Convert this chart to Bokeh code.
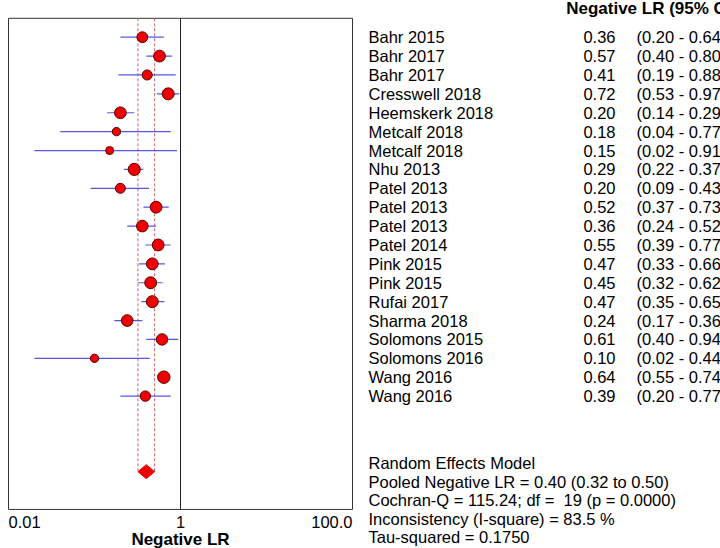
import math
from bokeh.plotting import figure
from bokeh.models import ColumnDataSource, Range1d, LogScale
from bokeh.core.properties import value
from bokeh.embed import file_html
from bokeh.resources import INLINE

# ---------------- data ----------------
studies = ["Bahr 2015", "Bahr 2017", "Bahr 2017", "Cresswell 2018", "Heemskerk 2018",
           "Metcalf 2018", "Metcalf 2018", "Nhu 2013", "Patel 2013", "Patel 2013",
           "Patel 2013", "Patel 2014", "Pink 2015", "Pink 2015", "Rufai 2017",
           "Sharma 2018", "Solomons 2015", "Solomons 2016", "Wang 2016", "Wang 2016"]
neg_lr = [0.36, 0.57, 0.41, 0.72, 0.20, 0.18, 0.15, 0.29, 0.20, 0.52,
          0.36, 0.55, 0.47, 0.45, 0.47, 0.24, 0.61, 0.10, 0.64, 0.39]
ci_low = [0.20, 0.40, 0.19, 0.53, 0.14, 0.04, 0.02, 0.22, 0.09, 0.37,
          0.24, 0.39, 0.33, 0.32, 0.35, 0.17, 0.40, 0.02, 0.55, 0.20]
ci_high = [0.64, 0.80, 0.88, 0.97, 0.29, 0.77, 0.91, 0.37, 0.43, 0.73,
           0.52, 0.77, 0.66, 0.62, 0.65, 0.36, 0.94, 0.44, 0.74, 0.77]

pooled = 0.40
pooled_low = 0.32
pooled_high = 0.50
cochran_q = 115.24
df_q = 19
p_value = 0.0000
i_square = 83.5
tau_squared = 0.1750

tick_values = [0.01, 1, 100]
tick_labels = ["0.01", "1", "100.0"]
axis_title = "Negative LR"
header = "Negative LR (95% CI)"
summary_lines = [
    "Random Effects Model",
    f"Pooled Negative LR = {pooled:.2f} ({pooled_low:.2f} to {pooled_high:.2f})",
    f"Cochran-Q = {cochran_q:.2f}; df = \u00a0{df_q} (p = {p_value:.4f})",
    f"Inconsistency (I-square) = {i_square:.1f} %",
    f"Tau-squared = {tau_squared:.4f}",
]

# ---------------- derived ----------------
rows = list(range(1, len(studies) + 1))
sizes = []
for lo, hi in zip(ci_low, ci_high):
    se = (math.log(hi) - math.log(lo)) / (2 * 1.96)
    w = 1.0 / (se * se + tau_squared)
    sizes.append(7.1 + 0.97 * w)

src = ColumnDataSource(dict(
    study=studies, lr=neg_lr, lo=ci_low, hi=ci_high, row=rows, size=sizes,
    val=[f"{v:.2f}" for v in neg_lr],
    ci=[f"({a:.2f} - {b:.2f})" for a, b in zip(ci_low, ci_high)],
))

# ---------------- layout constants ----------------
W, H = 720, 548
FONT = "Liberation Sans"
N_ROWS = 26             # box spans rows 0..26
ROW_PX = 18.89
TOP_PX = 17.8           # pixel position of row 0 (top of box)
BOX_L, BOX_R = 8, 352   # pixel x of 0.01 and 100
DEC_PX = (BOX_R - BOX_L) / 4.0

y_top = -TOP_PX / ROW_PX
y_bot = (H - TOP_PX) / ROW_PX
log_lo = 10 ** (-2 - BOX_L / DEC_PX)
log_hi = 10 ** (2 + (W - BOX_R) / DEC_PX)

p = figure(width=W, height=H, output_backend="svg", toolbar_location=None,
           x_range=Range1d(0, W), y_range=Range1d(y_bot, y_top),
           x_axis_location=None, y_axis_location=None,
           min_border=0, min_border_left=0, min_border_right=0,
           min_border_top=0, min_border_bottom=0)
p.extra_x_ranges = {"log": Range1d(log_lo, log_hi)}
p.extra_x_scales = {"log": LogScale()}
p.grid.visible = False
p.outline_line_color = None
p.background_fill_color = "white"
p.border_fill_color = "white"

# box of the forest panel (spans the axis range)
p.quad(left=[tick_values[0]], right=[tick_values[-1]], top=[0], bottom=[N_ROWS],
       x_range_name="log", fill_color=None, line_color="#333333", line_width=1)

# line of no effect
p.segment(x0=[1], y0=[0], x1=[1], y1=[N_ROWS], x_range_name="log",
          line_color="#222222", line_width=1)

# pooled CI dashed lines
pool_row = 24
p.segment(x0=[pooled_low, pooled_high], y0=[0, 0], x1=[pooled_low, pooled_high],
          y1=[pool_row, pool_row], x_range_name="log",
          line_color="#c86464", line_width=1, line_dash="3 2")

# study CIs and points
p.segment(x0="lo", y0="row", x1="hi", y1="row", source=src, x_range_name="log",
          line_color="#3a3ae0", line_width=1.2, line_alpha=0.85)
p.scatter(x="lr", y="row", size="size", source=src, x_range_name="log",
          fill_color="#ee0000", line_color="#5a0000", line_width=1)

# pooled diamond
p.patch(x=[pooled_low, pooled, pooled_high, pooled],
        y=[pool_row, pool_row - 0.37, pool_row, pool_row + 0.37], x_range_name="log",
        fill_color="#ee0000", line_color="#dd0000", line_width=1)

# x tick labels + axis title
for tv, tl, al in zip(tick_values, tick_labels, ["left", "center", "right"]):
    p.text(x=[tv], y=[26.69], text=[tl], x_range_name="log", text_align=al,
           text_baseline="middle", text_font=value(FONT), text_font_size="16.5px",
           text_color="black")
p.text(x=[1], y=[27.6], text=[axis_title], x_range_name="log", text_align="center",
       text_baseline="middle", text_font=value(FONT), text_font_size="17px",
       text_font_style="bold", text_color="black")

# right-hand table
txt = dict(text_baseline="middle", text_font=value(FONT), text_font_size="16.5px",
           text_color="black")
p.text(x=368, y="row", text="study", source=src, text_align="left", **txt)
p.text(x=615, y="row", text="val", source=src, text_align="right", **txt)
p.text(x=636, y="row", text="ci", source=src, text_align="left", **txt)

p.text(x=[565.7], y=[-0.5], text=[header], text_align="left", text_baseline="middle",
       text_font=value(FONT), text_font_size="17px", text_font_style="bold",
       text_color="black")

sum_y = [23.54 + k * 0.985 for k in range(len(summary_lines))]
p.text(x=368, y=sum_y, text=summary_lines, text_align="left", **txt)

open("out.html", "w").write(file_html(p, INLINE))
